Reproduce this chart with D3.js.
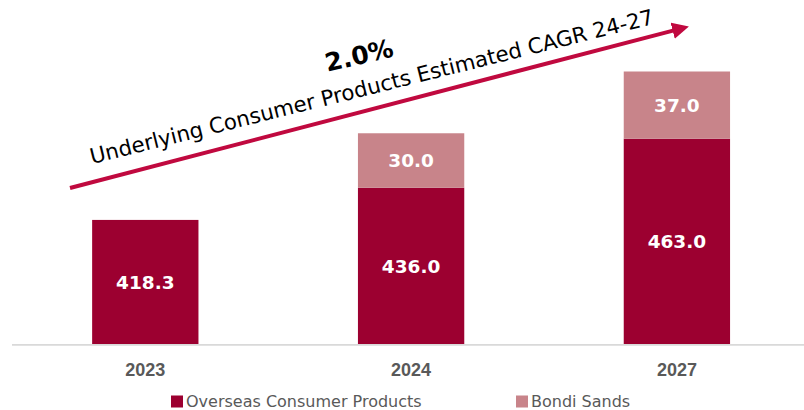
<!DOCTYPE html>
<html>
<head>
<meta charset="utf-8">
<script src="https://cdn.jsdelivr.net/npm/d3@7"></script>
<style>
  html, body { margin: 0; padding: 0; background: #ffffff; }
  svg { display: block; }
</style>
</head>
<body>
<svg id="chart" width="804" height="410"></svg>
<script>
// ---- data ----
const categories = ["2023", "2024", "2027"];
const overseasValues = [418.3, 436.0, 463.0];
const bondiValues = [0, 30.0, 37.0];
const seriesNames = ["Overseas Consumer Products", "Bondi Sands"];
const cagrValue = "2.0%";
const cagrLabel = "Underlying Consumer Products Estimated CAGR 24-27";
const yDomain = [350, 500];

// ---- styles ----
const colors = ["#9C0030", "#C8848A"];
const arrowColor = "#C0093F";
const W = 804, H = 410;

const svg = d3.select("#chart");

const x = d3.scaleBand()
  .domain(categories)
  .range([12.4, 809.8])
  .paddingInner(0.6)
  .paddingOuter(0.3);

const y = d3.scaleLinear()
  .domain(yDomain)
  .range([344, 71.5]);

const rows = categories.map((c, i) => ({ cat: c, o: overseasValues[i], b: bondiValues[i] }));
const stacked = d3.stack().keys(["o", "b"])(rows);

// axis baseline
svg.append("line")
  .attr("x1", 12).attr("x2", W)
  .attr("y1", y(yDomain[0]) + 0.8).attr("y2", y(yDomain[0]) + 0.8)
  .attr("stroke", "#D9D9D9").attr("stroke-width", 1.8);

// bars + value labels
stacked.forEach((s, si) => {
  const segs = s.filter(d => d[1] - d[0] > 0);
  const bottom = d => (si === 0 ? y(yDomain[0]) : y(d[0]));
  svg.append("g").attr("fill", colors[si])
    .selectAll("rect").data(segs).join("rect")
    .attr("x", d => x(d.data.cat))
    .attr("width", x.bandwidth())
    .attr("y", d => y(d[1]))
    .attr("height", d => bottom(d) - y(d[1]));
  svg.append("g").selectAll("text").data(segs).join("text")
    .attr("x", d => x(d.data.cat) + x.bandwidth() / 2)
    .attr("y", d => (bottom(d) + y(d[1])) / 2)
    .attr("dy", "0.36em")
    .attr("text-anchor", "middle")
    .attr("fill", "#ffffff")
    .attr("font-family", "'DejaVu Sans', sans-serif")
    .attr("font-weight", "bold")
    .attr("font-size", 18.5)
    .text(d => (d[1] - d[0]).toFixed(1));
});

// category labels via axis
const xAxis = d3.axisBottom(x).tickSize(0).tickPadding(0);
const axisG = svg.append("g").attr("transform", "translate(0,376)").call(xAxis);
axisG.select(".domain").remove();
axisG.selectAll("text")
  .attr("dy", 0).attr("y", 0)
  .attr("fill", "#595959")
  .attr("font-family", "'Liberation Sans', Arial, sans-serif")
  .attr("font-weight", "bold")
  .attr("font-size", 18);

// arrow
const defs = svg.append("defs");
defs.append("marker")
  .attr("id", "ah")
  .attr("viewBox", "0 0 10 10")
  .attr("refX", 2).attr("refY", 5)
  .attr("markerWidth", 4.2).attr("markerHeight", 4.2)
  .attr("orient", "auto")
  .attr("markerUnits", "strokeWidth")
  .append("path").attr("d", "M0,0 L10,5 L0,10 z").attr("fill", arrowColor);

const a0 = [70, 188], a1 = [690.7, 26];
const ang = Math.atan2(a1[1] - a0[1], a1[0] - a0[0]);
const headLen = 17;
svg.append("line")
  .attr("x1", a0[0]).attr("y1", a0[1])
  .attr("x2", a1[0] - headLen * Math.cos(ang) * 0.9)
  .attr("y2", a1[1] - headLen * Math.sin(ang) * 0.9)
  .attr("stroke", arrowColor).attr("stroke-width", 4)
  .attr("marker-end", "url(#ah)");

svg.append("text")
  .attr("transform", `translate(92,164) rotate(-14)`)
  .attr("fill", "#000000")
  .attr("font-family", "'DejaVu Sans', sans-serif")
  .attr("font-size", 21.3)
  .text(cagrLabel);

svg.append("text")
  .attr("transform", `translate(361,64) rotate(-13)`)
  .attr("text-anchor", "middle")
  .attr("fill", "#000000")
  .attr("font-family", "'DejaVu Sans', sans-serif")
  .attr("font-weight", "bold")
  .attr("font-size", 25)
  .text(cagrValue);

// legend
const leg = [{ x: 171, name: seriesNames[0], c: colors[0] }, { x: 516, name: seriesNames[1], c: colors[1] }];
const lg = svg.append("g");
lg.selectAll("rect").data(leg).join("rect")
  .attr("x", d => d.x).attr("y", 395.5).attr("width", 12).attr("height", 12)
  .attr("fill", d => d.c);
lg.selectAll("text").data(leg).join("text")
  .attr("x", d => d.x + 15).attr("y", 406.5)
  .attr("fill", "#595959")
  .attr("font-family", "'DejaVu Sans', sans-serif")
  .attr("font-size", 16)
  .text(d => d.name);
</script>
</body>
</html>
